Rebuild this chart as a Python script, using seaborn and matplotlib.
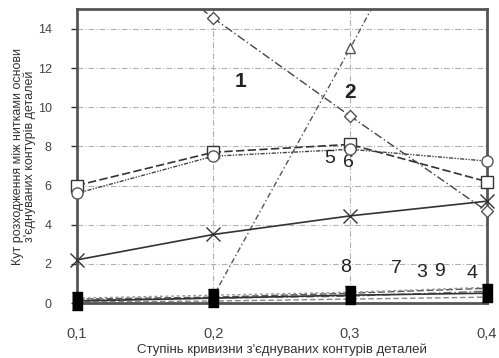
import numpy as np
import pandas as pd
import matplotlib
matplotlib.use('Agg')
import matplotlib.pyplot as plt
import seaborn as sns

# curvature degree (x) and values
x_vals = [0.1, 0.2, 0.3, 0.4]
x_tick_labels = ['0,1', '0,2', '0,3', '0,4']
y_ticks = [0, 2, 4, 6, 8, 10, 12, 14]

s_diamond = [20.0, 14.55, 9.55, 4.7]     # curve 1
s_triangle = [np.nan, 0.35, 13.0, 26.0]  # curve 2
s_square = [6.0, 7.7, 8.1, 6.2]
s_circle = [5.6, 7.5, 7.85, 7.25]
s_cross = [2.2, 3.5, 4.45, 5.2]
s_filled = [0.1, 0.25, 0.4, 0.5]
s_low_a = [0.2, 0.3, 0.5, 0.75]
s_low_b = [0.15, 0.25, 0.35, 0.6]
s_low_c = [0.25, 0.4, 0.55, 0.8]
s_low_d = [0.05, 0.1, 0.2, 0.3]

curve_labels = ['1', '2', '5', '6', '8', '7', '3', '9', '4']
label_x = [0.2195, 0.300, 0.2853, 0.2985, 0.297, 0.334, 0.3524, 0.3658, 0.389]
label_y = [11.3, 10.77, 7.38, 7.18, 1.8, 1.74, 1.54, 1.6, 1.49]

sns.set_style('white')
plt.rcParams['font.family'] = ['Liberation Sans', 'DejaVu Sans']

fig, ax = plt.subplots(figsize=(4.99, 3.58), dpi=100)
fig.subplots_adjust(left=0.1537, right=0.9754, top=0.974, bottom=0.1536)

grid_kw = dict(color='#b0b0b0', lw=0.8, ls=(0, (5, 2, 1, 2)), zorder=0)
for yt in y_ticks[1:]:
    ax.axhline(yt, **grid_kw)
for xt in x_vals[1:3]:
    ax.axvline(xt, **grid_kw)

rect = [(-0.5, -1.0), (0.5, -1.0), (0.5, 1.0), (-0.5, 1.0)]

series = [
    (s_low_d, dict(color='#888888', ls=(0, (4, 2)), lw=1.0, marker=None)),
    (s_low_b, dict(color='#666666', ls=(0, (6, 2, 1, 2)), lw=1.0, marker=None)),
    (s_low_a, dict(color='#555555', ls=(0, (5, 2)), lw=1.0, marker=None)),
    (s_low_c, dict(color='#999999', ls=(0, (2, 2)), lw=1.0, marker=None)),
    (s_diamond, dict(color='#444444', ls=(0, (6, 2, 1, 2)), lw=1.0, marker='D', ms=6,
                     mfc='white', mec='#555555')),
    (s_triangle, dict(color='#555555', ls=(0, (4, 2, 1, 2)), lw=1.0, marker='^', ms=7,
                      mfc='white', mec='#555555')),
    (s_square, dict(color='#333333', ls=(0, (5, 2)), lw=1.2, marker='s', ms=8,
                    mfc='white', mec='#333333')),
    (s_circle, dict(color='#444444', ls=(0, (3, 1, 1, 1, 1, 1)), lw=1.0, marker='o', ms=8,
                    mfc='white', mec='#555555')),
    (s_cross, dict(color='#333333', ls='-', lw=1.2, marker='x', ms=10,
                   mec='#333333', mew=1.0)),
    (s_filled, dict(color='#333333', ls='-', lw=1.2, marker=rect, ms=13,
                    mfc='black', mec='black')),
]

mk_keys = ('marker', 'ms', 'mfc', 'mec', 'mew')
for i, (vals, kw) in enumerate(series):
    df = pd.DataFrame({'x': x_vals, 'y': vals})
    # line clipped to the axes
    line_kw = {k: v for k, v in kw.items() if k not in mk_keys}
    sns.lineplot(data=df, x='x', y='y', ax=ax, **line_kw)
    # markers drawn unclipped so those on the frame stay whole
    if kw.get('marker') is not None:
        mk = {k: v for k, v in kw.items() if k in mk_keys}
        ax.plot(df['x'], df['y'], ls='none', clip_on=False, zorder=3 + i * 0.01, **mk)

for t, tx, ty in zip(curve_labels, label_x, label_y):
    bold = t in ('1', '2')
    ax.text(tx, ty, t, ha='center', va='center', fontsize=15 if bold else 14,
            fontweight='bold' if bold else 'normal', color='#222222')

ax.set_xlim(0.1, 0.4)
ax.set_ylim(0, 15)
ax.set_xticks(x_vals)
ax.set_xticklabels(x_tick_labels)
ax.set_yticks(y_ticks)
ax.tick_params(axis='x', length=0, pad=17, labelsize=10.5, labelcolor='#444444')
ax.tick_params(axis='y', length=4, width=1, pad=14, labelsize=9, labelcolor='#444444',
               color='#333333', direction='out', left=True)

for side in ['left', 'right', 'top', 'bottom']:
    ax.spines[side].set_visible(True)
    ax.spines[side].set_color('#555555')
    ax.spines[side].set_linewidth(2)

ax.set_xlabel("Ступінь кривизни з'єднуваних контурів деталей", fontsize=9.5,
              color='#333333', labelpad=2)
ax.set_ylabel("Кут розходження між нитками основи\nз'єднуваних контурів деталей",
              fontsize=9, color='#333333', labelpad=1, linespacing=1.0)

fig.savefig('out.png', dpi=100)
